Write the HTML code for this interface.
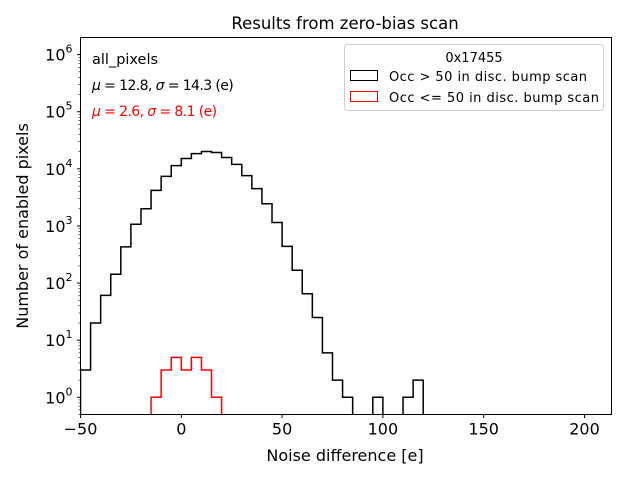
<!DOCTYPE html>
<html><head><meta charset="utf-8"><style>
body{margin:0;background:#fff;}
svg{display:block;font-family:"DejaVu Sans","Liberation Sans",sans-serif;}
</style></head><body>
<svg id="chart" width="640" height="480" xmlns="http://www.w3.org/2000/svg">
<rect width="640" height="480" fill="#fff"/>
<g id="plot"></g>
<rect x="80.5" y="37.5" width="531" height="377" fill="none" stroke="#000" stroke-width="1"/>
<g id="ticks"></g>
<text x="345" y="29" font-size="16.5" text-anchor="middle">Results from zero-bias scan</text>
<text x="345" y="461" font-size="16" text-anchor="middle">Noise difference [e]</text>
<text transform="translate(28,226) rotate(-90)" font-size="16" text-anchor="middle">Number of enabled pixels</text>
<text x="92" y="64" font-size="14.5">all_pixels</text>
<text x="92" y="90" font-size="14" letter-spacing="-0.6"><tspan font-style="italic">μ</tspan> = 12.8, <tspan font-style="italic">σ</tspan> = 14.3 (e)</text>
<text x="92" y="116" font-size="14" letter-spacing="-0.6" fill="#ff0000"><tspan font-style="italic">μ</tspan> = 2.6, <tspan font-style="italic">σ</tspan> = 8.1 (e)</text>
<g>
<rect x="344.5" y="44.5" width="259" height="66" rx="3" fill="#fff" fill-opacity="0.8" stroke="#ccc"/>
<text x="474" y="62" font-size="13" text-anchor="middle">0x17455</text>
<rect x="350.5" y="70.5" width="27" height="10" fill="none" stroke="#000"/>
<text x="389" y="81" font-size="13" textLength="198">Occ &gt; 50 in disc. bump scan</text>
<rect x="350.5" y="91.5" width="27" height="10" fill="none" stroke="#ff0000"/>
<text x="389" y="102" font-size="13" textLength="210">Occ &lt;= 50 in disc. bump scan</text>
</g>
</svg>
<script>
const binStart = -50;
const binWidth = 5;
const blackCounts = [3,20,61,143,430,1070,2000,4200,7400,11400,15200,18500,20100,19300,15800,12000,7600,4500,2450,1150,440,168,65,25,6,2,1,0,0,1,0,0,1,2];
const redStart = -15;
const redCounts = [1,3,5,3,5,3,1];
const xTicks = [-50,0,50,100,150,200];
const yTickExps = [0,1,2,3,4,5,6];

const NS="http://www.w3.org/2000/svg";
const L=80.5,R=611.5,T=37.5,B=414.5;
const xMin=-50,xMax=213.4,yMinLog=Math.log10(0.5),yMaxLog=6.3;
function X(v){return L+(v-xMin)/(xMax-xMin)*(R-L);}
function Y(v){if(v<=0)return B+5;return B-(Math.log10(v)-yMinLog)/(yMaxLog-yMinLog)*(B-T);}
function mk(tag,attrs,parent){const e=document.createElementNS(NS,tag);for(const k in attrs)e.setAttribute(k,attrs[k]);parent.appendChild(e);return e;}
const plot=document.getElementById('plot'),ticks=document.getElementById('ticks');
const cp=mk('clipPath',{id:'clip'},plot);
mk('rect',{x:L,y:T,width:R-L,height:B-T},cp);
function stepPath(start,counts){
  let d='';
  counts.forEach((c,i)=>{
    const x0=X(start+i*binWidth),x1=X(start+(i+1)*binWidth);
    const y=Y(c);
    if(i===0)d+='M'+x0+','+(B+5);
    d+='L'+x0+','+y+'L'+x1+','+y;
  });
  d+='L'+X(start+counts.length*binWidth)+','+(B+5);
  return d;
}
const pb=mk('path',{d:stepPath(binStart,blackCounts),fill:'none',stroke:'#000','stroke-width':1.5,'clip-path':'url(#clip)'},plot);


const pr=mk('path',{d:stepPath(redStart,redCounts),fill:'none',stroke:'#ff0000','stroke-width':1.5,'clip-path':'url(#clip)'},plot);


xTicks.forEach(v=>{
  const x=X(v);
  mk('line',{x1:x,x2:x,y1:B,y2:B+3.5,stroke:'#000'},ticks);
  const t=mk('text',{x:x,y:B+20,'font-size':16,'text-anchor':'middle'},ticks);
  t.textContent=(v<0?'−':'')+Math.abs(v);
  
  
});
yTickExps.forEach(e=>{
  const y=Y(Math.pow(10,e));
  mk('line',{x1:L-3.5,x2:L,y1:y,y2:y,stroke:'#000'},ticks);
  const t=mk('text',{x:L-8,y:y+6,'font-size':16,'text-anchor':'end'},ticks);
  t.innerHTML='10<tspan dy="-8" font-size="11">'+e+'</tspan>';
  
  
});
for(let e=-1;e<=6;e++){for(let m=2;m<=9;m++){const v=m*Math.pow(10,e);const y=Y(v);if(y<T||y>B)continue;mk('line',{x1:L-2,x2:L,y1:y,y2:y,stroke:'#000','stroke-width':0.6},ticks);}}
</script>
</body></html>
